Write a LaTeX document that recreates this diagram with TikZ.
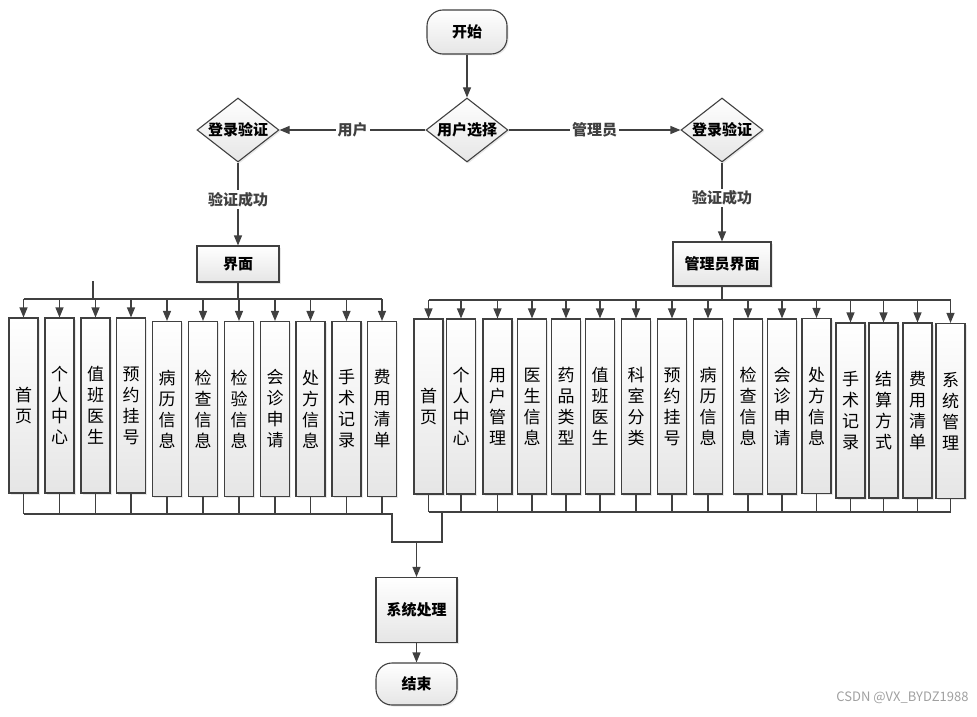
\documentclass[tikz,border=0pt]{standalone}
\usepackage{fontspec}
\setmainfont{Noto Sans CJK SC}
\usepackage{tikz}
\usetikzlibrary{arrows.meta,positioning,calc,shapes.geometric,shadows}
\definecolor{cLine}{HTML}{404040}
\definecolor{cMark}{HTML}{A0A0A0}
\tikzset{
  base/.style={draw=cLine, line width=1.1pt, top color=white, bottom color=black!10,
               drop shadow={shadow xshift=1.5pt, shadow yshift=-1.5pt, fill=black!15, opacity=0.6},
               inner sep=0pt, align=center},
  term/.style={base, rounded corners=16pt, minimum width=80pt, minimum height=44pt,
               font=\bfseries\fontsize{15}{18}\selectfont},
  proc/.style={base, minimum width=82pt, minimum height=36pt,
               font=\bfseries\fontsize{15}{18}\selectfont},
  dec/.style={base, diamond, aspect=1.28, minimum width=82pt, minimum height=64pt,
              font=\bfseries\fontsize{15}{18}\selectfont},
  mod/.style={base, minimum width=29pt, minimum height=175pt, font=\fontsize{17}{21}\selectfont},
  line/.style={cLine, line width=1.1pt},
  arr/.style={line, -{Triangle[length=10pt,width=8pt]}},
  lbl/.style={fill=white, inner sep=2pt, font=\bfseries\fontsize{15}{18}\selectfont}
}
\begin{document}
\begin{tikzpicture}[x=1pt,y=-1pt]
\useasboundingbox (0,0) rectangle (977,717);
% start and login
\node[term] (start) at (467,32) {开始};
\node[dec] (sel) at (467,130) {用户选择};
\node[dec] (ulog) at (238,130) {登录验证};
\node[dec] (alog) at (722,130) {登录验证};
\node[proc] (ui) at (238,264) {界面};
\node[proc, minimum width=98pt, minimum height=44pt] (aui) at (722,264) {管理员界面};
\draw[arr] (start) -- (sel);
\draw[arr] (sel) -- node[lbl] {用户} (ulog);
\draw[arr] (sel) -- node[lbl] {管理员} (alog);
\draw[arr] (ulog) -- node[lbl, pos=0.45] {验证成功} (ui);
\draw[arr] (alog) -- node[lbl, pos=0.45] {验证成功} (aui);
% user modules
\foreach \i/\x/\y/\t in {0/23.5/405.5/{首\\页}, 1/59.5/405.5/{个\\人\\中\\心},
    2/95.5/405.5/{值\\班\\医\\生}, 3/131/405.5/{预\\约\\挂\\号}, 4/167/409/{病\\历\\信\\息},
    5/203/409/{检\\查\\信\\息}, 6/239/409/{检\\验\\信\\息}, 7/275/409/{会\\诊\\申\\请},
    8/310.5/409/{处\\方\\信\\息}, 9/346.5/409/{手\\术\\记\\录}, 10/382/409/{费\\用\\清\\单}}
  \node[mod] (u\i) at (\x,\y) {\t};
% admin modules
\foreach \i/\x/\y/\t in {0/428.5/406.5/{首\\页}, 1/461/406.5/{个\\人\\中\\心},
    2/497.5/406.5/{用\\户\\管\\理}, 3/532/406.5/{医\\生\\信\\息}, 4/566/406.5/{药\\品\\类\\型},
    5/600/406.5/{值\\班\\医\\生}, 6/636/406.5/{科\\室\\分\\类}, 7/672/406.5/{预\\约\\挂\\号},
    8/708/406.5/{病\\历\\信\\息}, 9/748/406.5/{检\\查\\信\\息}, 10/782/406.5/{会\\诊\\申\\请},
    11/816.5/406/{处\\方\\信\\息}, 12/850.5/410.5/{手\\术\\记\\录}, 13/883.5/410.5/{结\\算\\方\\式},
    14/917.5/410.5/{费\\用\\清\\单}, 15/950.5/411/{系\\统\\管\\理}}
  \node[mod] (a\i) at (\x,\y) {\t};
% fan out
\coordinate (ubus) at (238,299);
\coordinate (abus) at (722,300);
\coordinate (stub) at (93,281);
\draw[line] (ui) -- (ubus);
\draw[line] (ubus -| u0) -- (ubus -| u10);
\draw[line] (stub) -- (stub |- ubus);
\foreach \i in {0,...,10} \draw[arr] (ubus -| u\i) -- (u\i);
\draw[line] (aui) -- (abus);
\draw[line] (abus -| a0) -- (abus -| a15);
\foreach \i in {0,...,15} \draw[arr] (abus -| a\i) -- (a\i);
% collect
\node[proc, minimum width=81pt, minimum height=65pt] (sys) at (416.5,610) {系统处理};
\node[term, minimum width=81pt, minimum height=42pt] (end) at (416.5,684) {结束};
\coordinate (ucol) at (392,514);
\coordinate (acol) at (442,512);
\coordinate (mg) at (416.5,542);
\foreach \i in {0,...,10} \draw[line] (u\i) -- (u\i |- ucol);
\foreach \i in {0,...,15} \draw[line] (a\i) -- (a\i |- acol);
\draw[line] (u0 |- ucol) -- (ucol) -- (ucol |- mg) -- (acol |- mg) -- (acol);
\draw[line] (a0 |- acol) -- (a15 |- acol);
\draw[arr] (mg) -- (sys);
\draw[arr] (sys) -- (end);
\node[font=\fontsize{13}{15}\selectfont, text=cMark, anchor=east] (wm) at (972,698) {CSDN @VX\_BYDZ1988};
\end{tikzpicture}
\end{document}
